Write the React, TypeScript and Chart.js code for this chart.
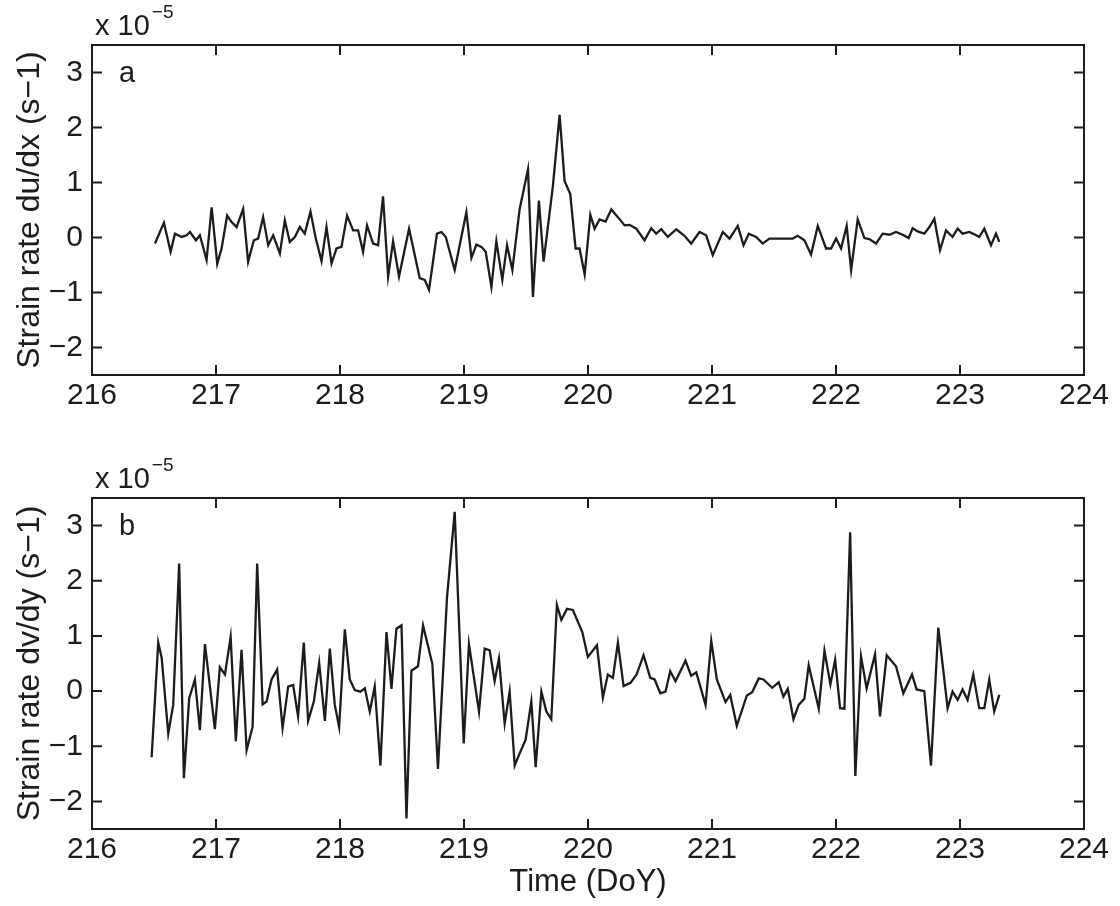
import React, { useEffect, useRef } from "react";
import { Chart, registerables } from "chart.js";

Chart.register(...registerables);

// ---- Data ----
const X_TICKS = [216, 217, 218, 219, 220, 221, 222, 223, 224];
const Y_TICKS = [-2, -1, 0, 1, 2, 3];

const TITLE_A = "Strain rate du/dx (s\u22121)";
const TITLE_B = "Strain rate dv/dy (s\u22121)";
const X_TITLE = "Time (DoY)";
const SCALE_BASE = "x 10";
const SCALE_EXP = "\u22125";

const timesA = [
  216.508, 216.58, 216.634, 216.669, 216.723, 216.763, 216.79, 216.838, 216.87, 216.924,
  216.965, 217.01, 217.045, 217.09, 217.126, 217.166, 217.219, 217.259, 217.305, 217.34,
  217.38, 217.421, 217.461, 217.515, 217.555, 217.595, 217.636, 217.676, 217.716, 217.762,
  217.805, 217.851, 217.891, 217.932, 217.972, 218.012, 218.057, 218.106, 218.146, 218.186,
  218.218, 218.267, 218.307, 218.347, 218.388, 218.428, 218.476, 218.557, 218.643, 218.683,
  218.718, 218.782, 218.818, 218.853, 218.925, 219.019, 219.06, 219.1, 219.14, 219.175,
  219.221, 219.261, 219.309, 219.347, 219.39, 219.449, 219.516, 219.556, 219.604, 219.642,
  219.717, 219.771, 219.811, 219.857, 219.9, 219.932, 219.973, 220.019, 220.053, 220.093,
  220.142, 220.188, 220.241, 220.295, 220.335, 220.389, 220.456, 220.51, 220.55, 220.591,
  220.644, 220.712, 220.778, 220.832, 220.899, 220.953, 221.006, 221.087, 221.141, 221.208,
  221.254, 221.297, 221.356, 221.409, 221.463, 221.651, 221.691, 221.745, 221.799, 221.853,
  221.92, 221.96, 222.001, 222.041, 222.086, 222.122, 222.175, 222.229, 222.269, 222.323,
  222.376, 222.43, 222.484, 222.538, 222.586, 222.618, 222.658, 222.712, 222.753, 222.793,
  222.839, 222.887, 222.94, 222.981, 223.021, 223.075, 223.123, 223.155, 223.196, 223.25,
  223.29, 223.317,
];
const strainA = [
  -0.11, 0.27, -0.26, 0.07, 0.01, 0.04, 0.1, -0.05, 0.04, -0.41,
  0.55, -0.48, -0.2, 0.4, 0.28, 0.19, 0.52, -0.44, -0.05, -0.02,
  0.37, -0.14, 0.04, -0.29, 0.31, -0.08, 0.01, 0.19, 0.07, 0.47,
  -0.02, -0.43, 0.19, -0.47, -0.2, -0.17, 0.4, 0.13, 0.13, -0.26,
  0.22, -0.11, -0.14, 0.75, -0.71, -0.07, -0.71, 0.16, -0.74, -0.77,
  -0.95, 0.07, 0.1, 0.01, -0.59, 0.46, -0.37, -0.13, -0.17, -0.26,
  -0.9, -0.07, -0.77, -0.14, -0.59, 0.52, 1.24, -1.08, 0.67, -0.44,
  0.94, 2.23, 1.03, 0.79, -0.2, -0.2, -0.67, 0.41, 0.16, 0.33,
  0.29, 0.51, 0.37, 0.22, 0.23, 0.16, -0.05, 0.17, 0.07, 0.15,
  0.01, 0.15, 0.03, -0.11, 0.1, 0.04, -0.32, 0.1, -0.02, 0.21,
  -0.14, 0.07, 0.01, -0.11, -0.02, -0.02, 0.03, -0.05, -0.31, 0.21,
  -0.2, -0.2, -0.02, -0.2, 0.21, -0.59, 0.33, -0.01, -0.03, -0.11,
  0.07, 0.05, 0.1, 0.05, -0.01, 0.17, 0.11, 0.07, 0.19, 0.34,
  -0.23, 0.13, 0.01, 0.16, 0.07, 0.1, 0.05, 0.01, 0.16, -0.14,
  0.07, -0.08,
];

const timesB = [
  216.481, 216.534, 216.562, 216.615, 216.655, 216.703, 216.741, 216.784, 216.83, 216.87,
  216.911, 216.991, 217.031, 217.072, 217.118, 217.16, 217.206, 217.247, 217.295, 217.332,
  217.376, 217.408, 217.448, 217.493, 217.537, 217.582, 217.622, 217.662, 217.708, 217.743,
  217.789, 217.832, 217.878, 217.918, 217.958, 217.993, 218.039, 218.079, 218.119, 218.165,
  218.2, 218.24, 218.28, 218.326, 218.375, 218.415, 218.455, 218.496, 218.536, 218.576,
  218.629, 218.67, 218.745, 218.79, 218.863, 218.925, 218.998, 219.04, 219.121, 219.167,
  219.207, 219.247, 219.282, 219.328, 219.368, 219.409, 219.449, 219.497, 219.543, 219.578,
  219.624, 219.664, 219.704, 219.749, 219.785, 219.83, 219.878, 219.954, 219.999, 220.072,
  220.12, 220.16, 220.201, 220.241, 220.287, 220.343, 220.392, 220.448, 220.502, 220.537,
  220.583, 220.625, 220.663, 220.706, 220.786, 220.832, 220.873, 220.948, 220.994, 221.039,
  221.109, 221.147, 221.2, 221.281, 221.324, 221.377, 221.415, 221.485, 221.538, 221.576,
  221.611, 221.657, 221.699, 221.745, 221.78, 221.861, 221.907, 221.955, 221.993, 222.033,
  222.068, 222.114, 222.156, 222.202, 222.247, 222.315, 222.355, 222.409, 222.484, 222.543,
  222.613, 222.65, 222.712, 222.766, 222.825, 222.86, 222.9, 222.94, 222.981, 223.021,
  223.061, 223.107, 223.155, 223.196, 223.236, 223.276, 223.317,
];
const strainB = [
  -1.2, 0.88, 0.6, -0.77, -0.25, 2.31, -1.58, -0.13, 0.21, -0.71,
  0.85, -0.69, 0.43, 0.3, 0.98, -0.91, 0.75, -1.07, -0.65, 2.31,
  -0.24, -0.19, 0.21, 0.39, -0.67, 0.08, 0.11, -0.46, 0.88, -0.54,
  -0.19, 0.51, -0.54, 0.77, -0.25, -0.65, 1.12, 0.21, 0.02, -0.01,
  0.05, -0.37, 0.08, -1.35, 1.07, 0.04, 1.13, 1.19, -2.31, 0.37,
  0.45, 1.19, 0.49, -1.41, 1.7, 3.25, -0.95, 0.85, -0.37, 0.77,
  0.74, 0.18, 0.59, -0.59, -0.01, -1.35, -1.13, -0.88, -0.19, -1.38,
  -0.01, -0.37, -0.51, 1.56, 1.29, 1.49, 1.47, 1.07, 0.62, 0.83,
  -0.12, 0.3, 0.24, 0.88, 0.09, 0.15, 0.3, 0.65, 0.24, 0.21,
  -0.04, -0.01, 0.36, 0.18, 0.55, 0.28, 0.34, -0.25, 0.91, 0.21,
  -0.2, -0.07, -0.63, -0.08, -0.02, 0.23, 0.21, 0.06, 0.16, -0.1,
  0.04, -0.51, -0.25, -0.14, 0.47, -0.32, 0.73, 0.12, 0.57, -0.31,
  -0.32, 2.88, -1.54, 0.63, 0.05, 0.67, -0.46, 0.65, 0.45, -0.04,
  0.3, 0.03, 0.0, -1.35, 1.15, 0.48, -0.31, -0.01, -0.16, 0.03,
  -0.16, 0.3, -0.31, -0.31, 0.21, -0.37, -0.07,
];

// ---- Styling ----
const FONT = '"Liberation Sans", Arial, Helvetica, sans-serif';
const INK = "#1c1c1c";

const fmt = (v: number) => (v < 0 ? "\u2212" + Math.abs(v) : String(v));

const framePlugin = {
  id: "frame",
  afterDraw(chart: any, _args: any, opts: any) {
    const { ctx, chartArea } = chart;
    const { left, right, top, bottom } = chartArea;
    const xs = chart.scales.x;
    const ys = chart.scales.y;
    const L = 10;
    ctx.save();
    ctx.strokeStyle = INK;
    ctx.lineWidth = 2;
    ctx.beginPath();
    ctx.rect(left, top, right - left, bottom - top);
    xs.ticks.forEach((t: any) => {
      const p = xs.getPixelForValue(t.value);
      ctx.moveTo(p, bottom);
      ctx.lineTo(p, bottom - L);
      ctx.moveTo(p, top);
      ctx.lineTo(p, top + L);
    });
    ys.ticks.forEach((t: any) => {
      const p = ys.getPixelForValue(t.value);
      ctx.moveTo(left, p);
      ctx.lineTo(left + L, p);
      ctx.moveTo(right, p);
      ctx.lineTo(right - L, p);
    });
    ctx.stroke();

    ctx.fillStyle = INK;
    ctx.textAlign = "left";
    ctx.textBaseline = "alphabetic";
    ctx.font = `29px ${FONT}`;
    ctx.fillText(opts.letter, left + 27, top + 37);
    ctx.fillText(opts.base, left + 3, top - 10);
    const w = ctx.measureText(opts.base).width;
    ctx.font = `19px ${FONT}`;
    ctx.fillText(opts.exp, left + 5 + w, top - 27);
    ctx.restore();
  },
};

function makeConfig(
  times: number[],
  values: number[],
  yTitle: string,
  letter: string,
  xHeight: number,
  xTitle: string | null
): any {
  return {
    type: "line",
    data: {
      datasets: [
        {
          data: times.map((t, i) => ({ x: t, y: values[i] })),
          borderColor: INK,
          borderWidth: 2.3,
          pointRadius: 0,
          tension: 0,
          fill: false,
        },
      ],
    },
    options: {
      animation: false,
      responsive: false,
      devicePixelRatio: 1,
      layout: { padding: { top: 45, right: 36, left: 0, bottom: 0 } },
      plugins: {
        legend: { display: false },
        tooltip: { enabled: false },
        frame: { letter, base: SCALE_BASE, exp: SCALE_EXP },
      },
      scales: {
        x: {
          type: "linear",
          min: 216,
          max: 224,
          afterBuildTicks: (s: any) => {
            s.ticks = X_TICKS.map((v) => ({ value: v }));
          },
          afterFit: (s: any) => {
            s.height = xHeight;
          },
          grid: { display: false, drawTicks: false },
          border: { display: false },
          ticks: {
            padding: 3,
            autoSkip: false,
            maxRotation: 0,
            color: INK,
            font: { size: 30, family: FONT },
            callback: (v: any) => fmt(Number(v)),
          },
          title: {
            display: !!xTitle,
            text: xTitle || "",
            color: INK,
            font: { size: 31, family: FONT },
            padding: { top: 0, bottom: 5 },
          },
        },
        y: {
          type: "linear",
          min: -2.5,
          max: 3.5,
          afterBuildTicks: (s: any) => {
            s.ticks = Y_TICKS.map((v) => ({ value: v }));
          },
          afterFit: (s: any) => {
            s.width = 92;
          },
          grid: { display: false, drawTicks: false },
          border: { display: false },
          ticks: {
            padding: 9,
            color: INK,
            font: { size: 30, family: FONT },
            callback: (v: any) => fmt(Number(v)),
          },
          title: {
            display: true,
            text: yTitle,
            color: INK,
            font: { size: 32, family: FONT },
            padding: { top: 11, bottom: 0 },
          },
        },
      },
    },
    plugins: [framePlugin],
  };
}

export default function App() {
  const aRef = useRef<HTMLCanvasElement>(null);
  const bRef = useRef<HTMLCanvasElement>(null);

  useEffect(() => {
    document.body.style.margin = "0";
    const a = new Chart(aRef.current!, makeConfig(timesA, strainA, TITLE_A, "a", 78, null));
    const b = new Chart(bRef.current!, makeConfig(timesB, strainB, TITLE_B, "b", 77, X_TITLE));
    return () => {
      a.destroy();
      b.destroy();
    };
  }, []);

  return (
    <div style={{ position: "relative", width: 1120, height: 906, background: "#fff" }}>
      <canvas
        ref={aRef}
        width={1120}
        height={453}
        style={{ position: "absolute", left: 0, top: 0, width: 1120, height: 453 }}
      />
      <canvas
        ref={bRef}
        width={1120}
        height={453}
        style={{ position: "absolute", left: 0, top: 453, width: 1120, height: 453 }}
      />
    </div>
  );
}
